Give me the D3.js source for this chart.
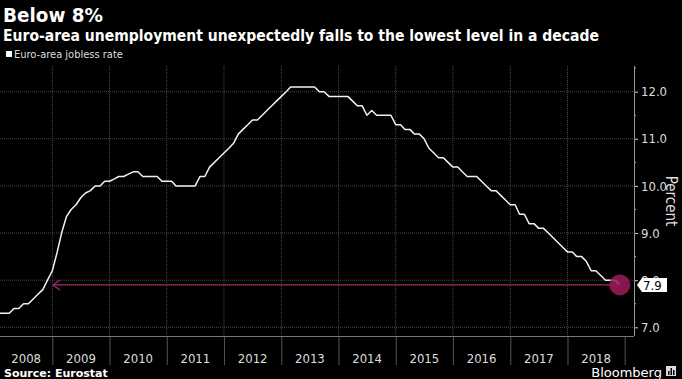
<!DOCTYPE html>
<html>
<head>
<meta charset="utf-8">
<script src="https://cdn.jsdelivr.net/npm/d3@7"></script>
<style>
  html, body { margin: 0; padding: 0; background: #000; }
  svg { display: block; font-family: "Liberation Sans Narrow", "DejaVu Sans Condensed", "Arial Narrow", sans-serif; }
</style>
</head>
<body>
<script>
var W = 682, H = 379;

// monthly euro-area jobless rate, Jan 2008 - Dec 2018
var rate2008 = [7.3, 7.3, 7.3, 7.3, 7.4, 7.4, 7.5, 7.5, 7.6, 7.7, 7.8, 8.0];
var rate2009 = [8.2, 8.6, 9.0, 9.35, 9.5, 9.6, 9.75, 9.85, 9.9, 10.0, 10.0, 10.1];
var rate2010 = [10.1, 10.15, 10.2, 10.2, 10.25, 10.3, 10.3, 10.2, 10.2, 10.2, 10.2, 10.1];
var rate2011 = [10.1, 10.1, 10.0, 10.0, 10.0, 10.0, 10.0, 10.2, 10.2, 10.4, 10.5, 10.6];
var rate2012 = [10.7, 10.8, 10.9, 11.1, 11.2, 11.3, 11.4, 11.4, 11.5, 11.6, 11.7, 11.8];
var rate2013 = [11.9, 12.0, 12.1, 12.1, 12.1, 12.1, 12.1, 12.1, 12.0, 12.0, 11.9, 11.9];
var rate2014 = [11.9, 11.9, 11.9, 11.8, 11.7, 11.7, 11.5, 11.6, 11.5, 11.5, 11.5, 11.5];
var rate2015 = [11.3, 11.3, 11.2, 11.2, 11.1, 11.1, 11.0, 10.8, 10.7, 10.6, 10.6, 10.5];
var rate2016 = [10.4, 10.4, 10.3, 10.2, 10.2, 10.2, 10.1, 10.0, 9.9, 9.9, 9.8, 9.7];
var rate2017 = [9.6, 9.6, 9.4, 9.4, 9.2, 9.2, 9.1, 9.1, 9.0, 8.9, 8.8, 8.7];
var rate2018 = [8.6, 8.6, 8.5, 8.5, 8.4, 8.2, 8.2, 8.1, 8.0, 8.0, 8.0, 7.9];

var years = [2008, 2009, 2010, 2011, 2012, 2013, 2014, 2015, 2016, 2017, 2018];
var yTicks = [7, 8, 9, 10, 11, 12];
var yMinor = [7.5, 8.5, 9.5, 10.5, 11.5, 12.5];
var latest = 7.9;

var rates = [].concat(rate2008, rate2009, rate2010, rate2011, rate2012, rate2013,
                      rate2014, rate2015, rate2016, rate2017, rate2018);
var data = rates.map(function (v, i) {
    return { date: d3.timeMonth.offset(new Date(2008, 0, 1), i), value: v };
});

var plot = { left: 0, right: 634, top: 66, bottom: 336 };

var xScale = d3.scaleTime()
    .domain([new Date(2008, 0, 1), new Date(2019, 0, 1)])
    .range([-5, 624.7]);

var yScale = d3.scaleLinear()
    .domain([7, 12])
    .range([327.3, 91.7]);

var svg = d3.select('body').append('svg')
    .attr('width', W)
    .attr('height', H);

svg.append('rect').attr('width', W).attr('height', H).attr('fill', '#000');

// titles
svg.append('text')
    .attr('x', 3).attr('y', 22)
    .attr('fill', '#fff')
    .style('font-family', '"DejaVu Sans", sans-serif')
    .style('font-weight', 'bold')
    .style('font-size', '20px')
    .attr('textLength', 100).attr('lengthAdjust', 'spacingAndGlyphs')
    .text('Below 8%');

svg.append('text')
    .attr('x', 3).attr('y', 41)
    .attr('fill', '#fff')
    .style('font-family', '"DejaVu Sans", sans-serif')
    .style('font-weight', 'bold')
    .style('font-size', '15px')
    .attr('textLength', 596).attr('lengthAdjust', 'spacingAndGlyphs')
    .text('Euro-area unemployment unexpectedly falls to the lowest level in a decade');

// legend
svg.append('rect')
    .attr('x', 6).attr('y', 51).attr('width', 6).attr('height', 6)
    .attr('fill', '#fff');
svg.append('text')
    .attr('x', 14).attr('y', 58)
    .attr('fill', '#ddd')
    .style('font-size', '11px')
    .text('Euro-area jobless rate');

// clip for the plot area
svg.append('clipPath').attr('id', 'plotclip')
    .append('rect')
    .attr('x', plot.left).attr('y', plot.top)
    .attr('width', plot.right - plot.left).attr('height', plot.bottom - plot.top);

var grid = svg.append('g');

// horizontal grid
grid.selectAll('line.h')
    .data(yTicks)
    .enter().append('line')
    .attr('class', 'h')
    .attr('x1', plot.left).attr('x2', plot.right)
    .attr('y1', function (d) { return yScale(d); })
    .attr('y2', function (d) { return yScale(d); })
    .attr('stroke', '#4a4a4a')
    .attr('stroke-width', 1)
    .attr('stroke-dasharray', '1,1');

// vertical grid at each year start (inside plot)
var yearStarts = years.slice(1).map(function (y) { return new Date(y, 0, 1); });
grid.selectAll('line.v')
    .data(yearStarts)
    .enter().append('line')
    .attr('class', 'v')
    .attr('x1', function (d) { return xScale(d); })
    .attr('x2', function (d) { return xScale(d); })
    .attr('y1', plot.top).attr('y2', plot.bottom)
    .attr('stroke', '#4a4a4a')
    .attr('stroke-dasharray', '1,1');

// x axis: separators below the plot and centred year labels
var xAxis = d3.axisBottom(xScale)
    .tickValues(yearStarts.concat([new Date(2019, 0, 1)]))
    .tickSize(29)
    .tickFormat('');

var gx = svg.append('g')
    .attr('transform', 'translate(0,' + plot.bottom + ')')
    .call(xAxis);
gx.select('.domain').remove();
gx.selectAll('.tick line').attr('stroke', '#555');

svg.append('line')
    .attr('x1', plot.left).attr('x2', plot.right)
    .attr('y1', plot.bottom + 0.5).attr('y2', plot.bottom + 0.5)
    .attr('stroke', '#777');

svg.append('g').selectAll('text')
    .data(years)
    .enter().append('text')
    .attr('x', function (y) {
        var a = Math.max(plot.left, xScale(new Date(y, 0, 1)));
        var b = xScale(new Date(y + 1, 0, 1));
        return (a + b) / 2;
    })
    .attr('y', 363)
    .attr('text-anchor', 'middle')
    .attr('fill', '#ddd')
    .style('font-size', '13px')
    .text(function (y) { return y; });

// y axis on the right
var yAxis = d3.axisRight(yScale)
    .tickValues(yTicks)
    .tickSize(4)
    .tickPadding(3)
    .tickFormat(d3.format('.1f'));

var gy = svg.append('g')
    .attr('transform', 'translate(' + plot.right + ',0)')
    .call(yAxis);
gy.select('.domain').remove();
gy.selectAll('.tick line').attr('stroke', '#ccc');
gy.selectAll('.tick text')
    .attr('fill', '#ddd')
    .style('font-size', '13px')
    .style('font-family', '"Liberation Sans Narrow", "DejaVu Sans Condensed", sans-serif');

gy.selectAll('line.minor')
    .data(yMinor)
    .enter().append('line')
    .attr('class', 'minor')
    .attr('x1', 0).attr('x2', 2)
    .attr('y1', function (d) { return yScale(d); })
    .attr('y2', function (d) { return yScale(d); })
    .attr('stroke', '#aaa');

svg.append('line')
    .attr('x1', plot.right + 0.5).attr('x2', plot.right + 0.5)
    .attr('y1', plot.top).attr('y2', plot.bottom)
    .attr('stroke', '#999');

svg.append('text')
    .attr('transform', 'translate(666,201) rotate(90)')
    .attr('text-anchor', 'middle')
    .attr('fill', '#ddd')
    .style('font-size', '15px')
    .text('Percent');

// data line
var line = d3.line()
    .x(function (d) { return xScale(d.date); })
    .y(function (d) { return yScale(d.value); });

svg.append('path')
    .datum(data)
    .attr('clip-path', 'url(#plotclip)')
    .attr('d', line)
    .attr('fill', 'none')
    .attr('stroke', '#f2f2f2')
    .attr('stroke-width', 1.5)
    .attr('stroke-linejoin', 'round');

// annotation: arrow back to the last time the rate was this low
var last = data[data.length - 1];
var ly = yScale(latest);
var ax = 53;
var mag = '#a8286b';

svg.append('line')
    .attr('x1', ax).attr('x2', xScale(last.date))
    .attr('y1', ly).attr('y2', ly)
    .attr('stroke', mag)
    .attr('stroke-width', 1.2);

svg.append('path')
    .attr('d', 'M' + (ax + 7) + ',' + (ly - 5) + 'L' + ax + ',' + ly + 'L' + (ax + 7) + ',' + (ly + 5))
    .attr('fill', 'none')
    .attr('stroke', mag)
    .attr('stroke-width', 1.2);

svg.append('circle')
    .attr('cx', xScale(last.date))
    .attr('cy', ly)
    .attr('r', 10.5)
    .attr('fill', '#9c1a5c')
    .attr('fill-opacity', 0.85);

// latest value flag (sits over the 8.0 tick label, as in the original)
var fx = plot.right + 3;
svg.append('path')
    .attr('d', 'M' + fx + ',' + ly + 'L' + (fx + 5) + ',' + (ly - 7) + 'L' + (fx + 30) + ',' + (ly - 7) +
               'L' + (fx + 30) + ',' + (ly + 7) + 'L' + (fx + 5) + ',' + (ly + 7) + 'Z')
    .attr('fill', '#fff');
svg.append('text')
    .attr('x', fx + 6).attr('y', ly + 5)
    .attr('fill', '#000')
    .style('font-size', '13px')
    .text(d3.format('.1f')(latest));

// footer
svg.append('text')
    .attr('x', 4).attr('y', 377)
    .attr('fill', '#fff')
    .style('font-family', '"DejaVu Sans", sans-serif')
    .style('font-weight', 'bold')
    .style('font-size', '11px')
    .text('Source: Eurostat');

svg.append('text')
    .attr('x', 662).attr('y', 377)
    .attr('text-anchor', 'end')
    .attr('fill', '#fff')
    .style('font-family', '"DejaVu Sans", sans-serif')
    .style('font-size', '13px')
    .text('Bloomberg');

svg.append('rect')
    .attr('x', 666).attr('y', 366).attr('width', 10).attr('height', 10)
    .attr('fill', '#ddd');
svg.append('g').selectAll('rect')
    .data([4, 7, 5])
    .enter().append('rect')
    .attr('x', function (d, i) { return 668 + i * 2.5; })
    .attr('y', function (d) { return 375 - d; })
    .attr('width', 1.5)
    .attr('height', function (d) { return d; })
    .attr('fill', '#000');
</script>
</body>
</html>
